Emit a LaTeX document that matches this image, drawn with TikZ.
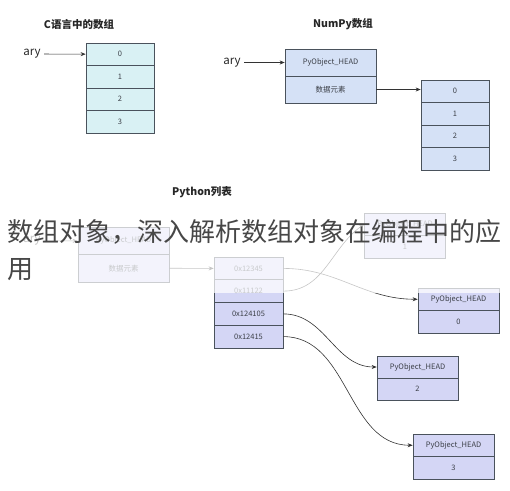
\documentclass[tikz,border=0pt]{standalone}
\usepackage{fontspec}
\setmainfont{Noto Sans CJK SC}
\usetikzlibrary{arrows.meta}
\definecolor{cfill}{HTML}{D9F1F4}
\definecolor{npfill}{HTML}{D5E1F6}
\definecolor{pyfill}{HTML}{D4D6F5}
\definecolor{edge}{HTML}{4A525C}
\definecolor{lbl}{HTML}{3C4048}
\tikzset{
	cell/.style={draw=edge, line width=0.7pt, inner sep=0pt, minimum height=22.5pt, text=lbl, font=\fontsize{7.5}{8}\selectfont},
	ccell/.style={cell, fill=cfill, minimum width=68pt},
	npcell/.style={cell, fill=npfill, minimum width=91pt, minimum height=27pt},
	pycell/.style={cell, fill=pyfill, minimum width=69pt, minimum height=22.75pt},
	objcell/.style={cell, fill=pyfill, minimum width=81pt},
	title/.style={font=\fontsize{10.5}{12}\selectfont\bfseries, text=black!85},
	var/.style={font=\fontsize{11.5}{12}\selectfont, text=black!85},
	caption/.style={anchor=west, inner sep=0pt, text=black!72, font=\fontsize{26}{27}\selectfont},
	ptr/.style={-{Stealth[length=5pt,width=4pt]}, draw=black!80, line width=0.6pt},
}
\begin{document}
\begin{tikzpicture}[x=1pt, y=-1pt]
	\useasboundingbox (0,0) rectangle (510,490);
	% C array
	\node[title] (ctitle) at (79,24) {C语言中的数组};
	\node[var] (cary) at (32,54) {ary};
	\node[ccell] (c0) at (120,54.25) {0};
	\node[ccell] (c1) at (120,76.75) {1};
	\node[ccell] (c2) at (120,99.25) {2};
	\node[ccell] (c3) at (120,121.75) {3};
	\draw[ptr] (cary) -- (c0);

	% NumPy array
	\node[title] (nptitle) at (343,24) {NumPy数组};
	\node[var] (npary) at (232,62.5) {ary};
	\node[npcell] (nphead) at (330.5,62.5) {PyObject\_HEAD};
	\node[npcell] (npdata) at (330.5,89.5) {数据元素};
	\node[ccell, fill=npfill] (np0) at (455,91.25) {0};
	\node[ccell, fill=npfill] (np1) at (455,113.75) {1};
	\node[ccell, fill=npfill] (np2) at (455,136.25) {2};
	\node[ccell, fill=npfill] (np3) at (455,158.75) {3};
	\draw[ptr] (npary) -- (nphead);
	\draw[ptr] (npdata.east) -- (npdata.east -| np0.west);

	% Python list
	\node[title] (pytitle) at (202,192) {Python列表};
	\node[var] (pyary) at (32,241) {ary};
	\node[npcell, fill=pyfill, minimum height=27.5pt] (pyhead) at (123.5,240.75) {PyObject\_HEAD};
	\node[npcell, fill=pyfill, minimum height=27.5pt] (pydata) at (123.5,268.25) {数据元素};
	\node[pycell] (p0) at (248.5,268.4) {0x12345};
	\node[pycell] (p1) at (248.5,291.1) {0x11122};
	\node[pycell] (p2) at (248.5,313.9) {0x124105};
	\node[pycell] (p3) at (248.5,336.6) {0x12415};
	\node[objcell] (o1h) at (405,224.25) {PyObject\_HEAD};
	\node[objcell] (o1v) at (405,246.75) {1};
	\node[objcell] (o0h) at (458.5,299.25) {PyObject\_HEAD};
	\node[objcell] (o0v) at (458.5,321.75) {0};
	\node[objcell, minimum height=22pt] (o2h) at (417.5,367) {PyObject\_HEAD};
	\node[objcell, minimum height=22pt] (o2v) at (417.5,389) {2};
	\node[objcell] (o3h) at (453.5,445.25) {PyObject\_HEAD};
	\node[objcell] (o3v) at (453.5,467.75) {3};
	\draw[ptr] (pyary) -- (pyhead);
	\draw[ptr] (pydata.east) -- (p0.west);
	\draw[ptr] (p0.east) to[out=0, in=180] (o0h.west);
	\draw[ptr] (p1.east) to[out=0, in=215] (o1h.west);
	\draw[ptr] (p2.east) to[out=0, in=180] (o2h.west);
	\draw[ptr] (p3.east) to[out=0, in=180] (o3h.west);

	% faded band and caption
	\fill[white, opacity=0.72] (0,203) rectangle (510,292.5);
	\node[caption] (cap1) at (7,232) {数组对象，深入解析数组对象在编程中的应};
	\node[caption] (cap2) at (7,270) {用};
\end{tikzpicture}
\end{document}
